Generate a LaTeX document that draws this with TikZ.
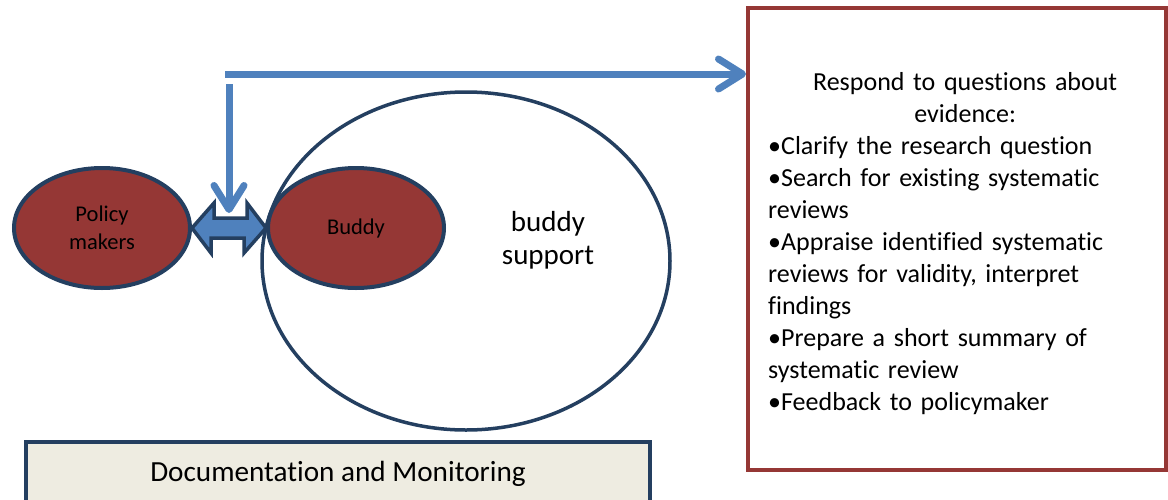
\documentclass[tikz,border=0pt]{standalone}
\usepackage{fontspec}
\setmainfont{Carlito}[RawFeature=-liga]
\usetikzlibrary{calc,arrows.meta,shapes.geometric}
\definecolor{darkred}{HTML}{953735}
\definecolor{navy}{HTML}{243F60}
\definecolor{ablue}{HTML}{4F81BD}
\definecolor{beige}{HTML}{EEECE1}
\begin{document}
\begin{tikzpicture}[x=1pt,y=-1pt,
  redell/.style={ellipse, draw=navy, line width=4pt, fill=darkred, minimum width=176pt, minimum height=120pt, inner sep=0pt, align=center},
  bigell/.style={ellipse, draw=navy, line width=3.5pt, fill=white, minimum width=408pt, minimum height=338pt, inner sep=0pt},
  redbox/.style={rectangle, draw=darkred, line width=4pt, fill=white, minimum width=418pt, minimum height=462pt, inner sep=0pt},
  docbox/.style={rectangle, draw=navy, line width=4pt, fill=beige, minimum width=624pt, minimum height=64pt, inner sep=0pt, font=\fontsize{29.2}{35}\selectfont},
  flow/.style={draw=ablue, line width=7pt, -{Straight Barb[length=24pt, width=30pt, round]}},
  dblarrow/.style={draw=navy, line width=3.5pt, fill=ablue, line join=miter}
]
\useasboundingbox (0,0) rectangle (1168,499);
% boxes and ellipses
\node[redbox] (box) at (957,239) {};
\node[anchor=north west, inner sep=0pt, text width=394pt, align=left,
      font=\fontsize{26}{32}\selectfont] (list) at (768,68)
  {{\centering\strut Respond to questions about\\ evidence:\par}
   \raggedright
   •Clarify the research question\\
   •Search for existing systematic reviews\\
   •Appraise identified systematic reviews for validity, interpret findings\\
   •Prepare a short summary of systematic review\\
   •Feedback to policymaker};
\node[bigell] (support) at (466,261) {};
\node[align=center, font=\fontsize{29}{33}\selectfont] (supporttext) at (548,240) {buddy\\support};
\node[redell, font=\fontsize{22.5}{28}\selectfont] (pm) at (102,228) {Policy\\makers};
\node[redell, font=\fontsize{22.5}{27}\selectfont] (buddy) at (356,228) {Buddy};
\node[docbox] (doc) at (338,474) {Documentation and Monitoring};
% double arrow between policy makers and buddy
\path[dblarrow] (pm.east) -- ++(22,-25) -- ++(0,15) -- ++(33,0) -- ++(0,-15)
  -- (buddy.west) -- ++(-22,25) -- ++(0,-15) -- ++(-33,0) -- ++(0,15) -- cycle;
% blue connectors
\coordinate (hstart) at (225,74);
\coordinate (vstart) at (229,84);
\coordinate (vend) at (229,213);
\draw[flow] (hstart) -- (hstart -| box.west);
\draw[flow] (vstart) -- (vend);
\end{tikzpicture}
\end{document}
